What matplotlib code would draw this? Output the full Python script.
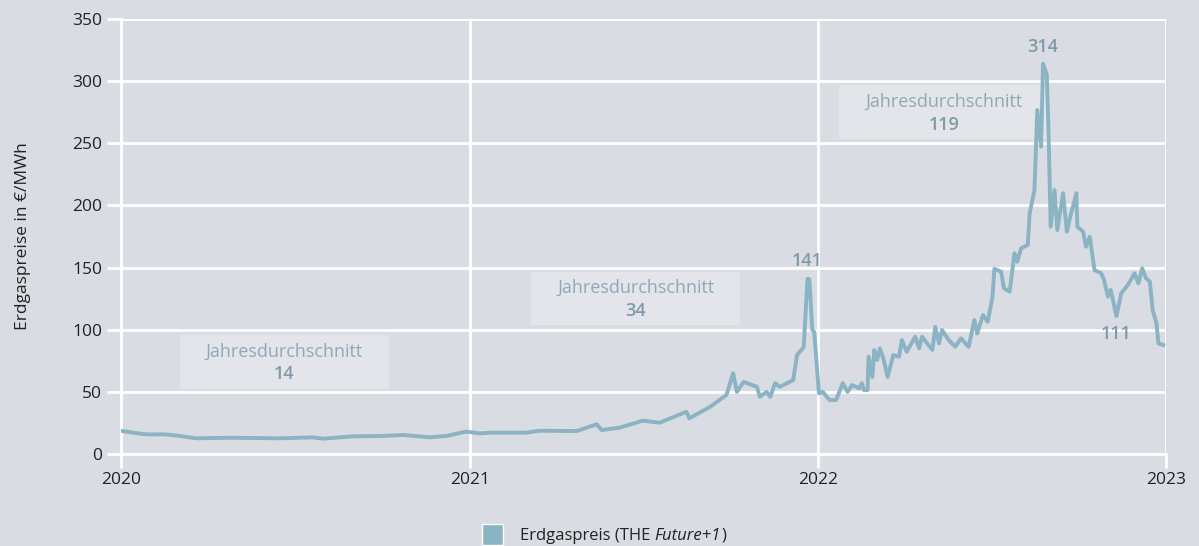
import matplotlib
matplotlib.use("Agg")
import matplotlib.pyplot as plt
import matplotlib.dates as mdates
from matplotlib.patches import Rectangle
import pandas as pd

# Tageswerte (gelesen aus der Grafik, ausgedünnt)
dates = [
    "2020-01-01", "2020-01-15", "2020-01-28", "2020-02-16", "2020-03-03", "2020-03-20",
    "2020-04-24", "2020-06-15", "2020-07-20", "2020-07-31", "2020-08-31", "2020-09-29",
    "2020-10-23", "2020-11-20", "2020-12-07", "2020-12-28",
    "2021-01-11", "2021-01-25", "2021-03-01", "2021-03-15", "2021-04-23", "2021-05-14",
    "2021-05-19", "2021-06-07", "2021-07-01", "2021-07-19", "2021-08-16", "2021-08-19",
    "2021-09-10", "2021-09-27", "2021-10-04", "2021-10-08", "2021-10-15", "2021-10-29",
    "2021-11-01", "2021-11-08", "2021-11-12", "2021-11-17", "2021-11-22", "2021-12-06",
    "2021-12-10", "2021-12-17", "2021-12-21", "2021-12-23", "2021-12-26", "2021-12-28",
    "2022-01-02", "2022-01-06", "2022-01-13", "2022-01-20", "2022-01-27", "2022-02-01",
    "2022-02-06", "2022-02-13", "2022-02-16", "2022-02-18", "2022-02-22", "2022-02-23",
    "2022-02-27", "2022-03-01", "2022-03-04", "2022-03-07", "2022-03-11", "2022-03-15",
    "2022-03-21", "2022-03-27", "2022-03-30", "2022-04-04", "2022-04-13", "2022-04-17",
    "2022-04-20", "2022-05-01", "2022-05-04", "2022-05-08", "2022-05-11", "2022-05-18",
    "2022-05-25", "2022-05-31", "2022-06-08", "2022-06-14", "2022-06-17", "2022-06-23",
    "2022-06-28", "2022-07-03", "2022-07-05", "2022-07-12", "2022-07-15", "2022-07-21",
    "2022-07-26", "2022-07-29", "2022-08-02", "2022-08-09", "2022-08-11", "2022-08-16",
    "2022-08-19", "2022-08-23", "2022-08-25", "2022-08-29", "2022-08-31", "2022-09-02",
    "2022-09-06", "2022-09-09", "2022-09-15", "2022-09-19", "2022-09-23", "2022-09-29",
    "2022-09-30", "2022-10-06", "2022-10-09", "2022-10-13", "2022-10-18", "2022-10-25",
    "2022-10-28", "2022-11-01", "2022-11-04", "2022-11-10", "2022-11-15", "2022-11-22",
    "2022-11-29", "2022-12-03", "2022-12-07", "2022-12-11", "2022-12-15", "2022-12-18",
    "2022-12-22", "2022-12-24", "2022-12-29",
]
preis = [
    18.7, 17.0, 15.8, 15.8, 14.5, 12.6,
    13.1, 12.6, 13.4, 12.3, 14.2, 14.5,
    15.3, 13.4, 14.5, 18.0,
    16.6, 17.2, 17.2, 18.7, 18.5, 23.9,
    19.3, 21.2, 26.8, 25.2, 34.0, 28.7,
    38.0, 47.5, 65.0, 50.0, 58.0, 54.0,
    46.0, 50.0, 46.0, 57.0, 54.0, 59.5,
    79.6, 86.0, 141.0, 140.5, 99.8, 98.4,
    48.8, 50.0, 43.4, 43.4, 57.0, 50.0,
    55.5, 52.8, 57.0, 51.5, 51.5, 78.3,
    62.0, 83.7, 75.6, 85.0, 75.6, 62.0,
    79.6, 78.3, 91.7, 82.3, 94.4, 85.0,
    94.4, 83.7, 102.4, 89.0, 99.8, 91.7,
    86.3, 93.0, 86.3, 107.8, 97.0, 111.8,
    106.4, 126.6, 149.0, 146.7, 133.3, 130.6,
    161.5, 154.7, 165.5, 168.2, 193.7, 212.4,
    276.8, 247.3, 314.0, 305.0, 252.6, 182.9,
    212.4, 180.2, 209.8, 178.9, 192.3, 209.8,
    182.9, 178.9, 166.8, 174.8, 148.0, 145.4,
    140.0, 126.6, 132.0, 111.0, 129.3, 136.0,
    145.4, 137.3, 149.4, 141.4, 138.7, 115.9,
    105.2, 89.0, 87.7,
]

# Jahresdurchschnitte
jahre = ["2020-06-20", "2021-06-24", "2022-05-13"]
durchschnitt = [14, 34, 119]
box_y = [74, 125, 275]

# markierte Werte
spitzen_datum = ["2021-12-21", "2022-08-25", "2022-11-10"]
spitzen_wert = [141, 314, 111]

bg = "#d9dce2"
linie = "#8ab3c3"
textfarbe = "#7f9aa8"

plt.rcParams["font.family"] = ["Open Sans", "DejaVu Sans"]

fig = plt.figure(figsize=(11.99, 5.46), dpi=100, facecolor=bg)
ax = fig.add_axes([0.1009, 0.1685, 0.8716, 0.7967])
ax.set_facecolor(bg)

x = pd.to_datetime(dates)
ax.plot(x, preis, color=linie, lw=2.8, solid_joinstyle="round", zorder=3)

ax.set_xlim(pd.Timestamp("2020-01-01"), pd.Timestamp("2023-01-01"))
ax.set_ylim(0, 350)
ax.set_yticks(range(0, 351, 50))
ax.xaxis.set_major_locator(mdates.YearLocator())
ax.xaxis.set_major_formatter(mdates.DateFormatter("%Y"))

ax.grid(True, color="white", lw=2, zorder=1)
for s in ["top", "right"]:
    ax.spines[s].set_visible(False)
for s in ["left", "bottom"]:
    ax.spines[s].set_color("white")
    ax.spines[s].set_linewidth(2)
ax.tick_params(axis="both", colors="white", width=2, length=10,
               labelcolor="#222222", labelsize=12.5)
ax.tick_params(axis="x", pad=3)
ax.set_ylabel("Erdgaspreise in €/MWh", fontsize=12.5, color="#222222", labelpad=30)

# Kästen mit Jahresdurchschnitt
box_w = 209 / 1045 * 1096  # Tage
for j, d, y in zip(jahre, durchschnitt, box_y):
    xm = mdates.date2num(pd.Timestamp(j))
    ax.add_patch(Rectangle((xm - box_w / 2, y - 21.5), box_w, 43, facecolor="#e3e5ea",
                           edgecolor="none", zorder=2))
    ax.text(xm, y + 8.5, "Jahresdurchschnitt", ha="center", va="center",
            fontsize=13, color="#8eaab7", zorder=4)
    ax.text(xm, y - 10, str(d), ha="center", va="center", fontsize=13,
            fontweight="semibold", color=textfarbe, zorder=4)

# Spitzenwerte
offs = [14, 13.5, -14.5]
for d, v, o in zip(spitzen_datum, spitzen_wert, offs):
    ax.text(pd.Timestamp(d), v + o, str(v), ha="center", va="center",
            fontsize=13, fontweight="semibold", color=textfarbe, zorder=4)

# Legende
fig.patches.append(Rectangle((482 / 1199, 1 - 545 / 546), 21 / 1199, 21 / 546,
                             transform=fig.transFigure, facecolor=linie,
                             edgecolor="white", lw=1))
t1 = fig.text(520 / 1199, 1 - 536 / 546, "Erdgaspreis (THE ", fontsize=12,
              color="#222222", va="center")
fig.canvas.draw()
bb = t1.get_window_extent()
t2 = fig.text(bb.x1 / 1199, 1 - 536 / 546, "Future+1", fontsize=12,
              style="italic", color="#222222", va="center")
bb2 = t2.get_window_extent()
fig.text(bb2.x1 / 1199, 1 - 536 / 546, ")", fontsize=12, color="#222222", va="center")

fig.savefig("out.png", dpi=100, facecolor=bg)
